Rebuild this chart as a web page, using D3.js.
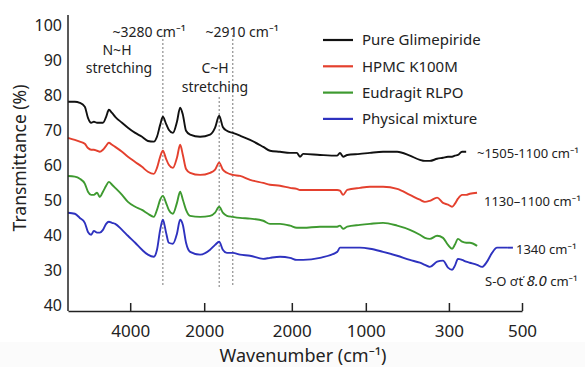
<!DOCTYPE html>
<html>
<head>
<meta charset="utf-8">
<script src="https://cdn.jsdelivr.net/npm/d3@7"></script>
<style>
  body { margin: 0; background: #fff; }
  svg { font-family: "Noto Sans", "Open Sans", sans-serif; }
  .spec { fill: none; stroke-width: 1.9; stroke-linejoin: round; }
  .vline { stroke: #777; stroke-width: 1; stroke-dasharray: 2,2; }
  .lbl { fill: #222; }
</style>
</head>
<body>
<div id="graph"></div>
<script>
// positions along the (relative) wavenumber axis, 0 = left edge, 100 = right edge
var position = [0, 1.5, 2.6, 3.7, 4.4, 5.1, 5.7, 6.4, 7.0, 7.7, 8.4, 9.0, 9.7, 10.4, 11.9, 13.2,
  14.8, 16.3, 17.6, 18.9, 19.6, 20.3, 20.9, 21.6, 22.2, 23.1, 24.0, 24.7, 25.3, 26.0, 26.9,
  29.1, 31.3, 32.4, 33.3, 34.1, 35.0, 36.3, 37.9, 40.1, 43.0, 44.5, 46.7, 48.9, 50.4, 51.1,
  51.8, 55.5, 59.3, 59.9, 60.6, 61.5, 64.3, 66.5, 69.4, 72.5, 75.3, 77.5, 78.6, 79.7, 81.3,
  82.6, 83.7, 84.6, 85.2, 85.9, 86.8, 87.7, 88.5, 90.1, 91.2, 92.3, 93.4, 94.5, 95.6, 96.9];

var pureGlimepiride = [78.3, 78.3, 78.0, 76.9, 73.7, 72.3, 72.6, 72.3, 72.3, 72.3, 74.0, 76.0, 75.1, 74.0, 72.3, 70.9,
  69.4, 68.3, 67.1, 66.9, 68.3, 71.7, 74.0, 72.0, 70.3, 69.4, 72.6, 76.6, 74.6, 70.0, 68.9,
  68.3, 68.9, 70.9, 74.3, 71.1, 70.0, 69.4, 68.6, 67.4, 65.4, 64.3, 64.0, 63.7, 63.7, 62.6,
  63.4, 63.1, 62.9, 63.7, 62.6, 63.1, 63.4, 63.7, 64.0, 64.0, 62.9, 61.7, 61.4, 61.4, 62.0,
  62.3, 62.6, 62.6, 62.9, 63.1, 64.0, 64.0, null, null, null, null, null, null, null, null];

var hpmcK100M = [68.0, 67.4, 66.9, 66.3, 65.1, 64.6, 64.6, 64.3, 64.0, 64.6, 65.7, 66.6, 66.0, 65.4, 64.0, 62.6,
  61.1, 59.7, 58.3, 57.7, 59.4, 62.6, 64.3, 62.0, 60.3, 59.4, 62.3, 66.0, 63.1, 59.1, 58.0,
  57.4, 58.0, 58.9, 60.9, 58.9, 58.0, 57.4, 57.1, 56.0, 55.1, 54.6, 54.3, 53.7, 53.4, 53.1,
  53.1, 53.1, 53.1, 52.9, 51.7, 53.1, 53.7, 54.0, 54.0, 53.4, 51.7, 50.3, 49.7, 50.0, 50.9,
  49.4, 48.9, 48.3, 49.1, 50.6, 51.7, 51.7, 52.0, 52.3, null, null, null, null, null, null];

var eudragitRLPO = [57.1, 56.9, 56.3, 54.9, 52.6, 51.7, 51.7, 52.3, 51.1, 52.6, 54.3, 55.4, 54.6, 53.7, 51.7, 49.7,
  48.3, 47.4, 46.3, 45.4, 47.4, 50.3, 51.4, 49.4, 47.4, 46.3, 49.4, 52.6, 50.3, 47.4, 45.7,
  45.4, 45.7, 46.6, 48.3, 46.6, 45.7, 45.4, 45.1, 44.9, 44.3, 43.4, 43.4, 42.9, 42.3, 42.3,
  42.3, 42.6, 42.6, 42.9, 42.0, 42.6, 43.1, 43.4, 43.7, 42.9, 41.7, 40.3, 39.4, 39.1, 40.0,
  39.4, 37.4, 36.3, 37.4, 39.1, 38.3, 38.0, 38.0, 37.1, null, null, null, null, null, null];

var physicalMixture = [46.6, 46.3, 45.1, 43.7, 41.1, 40.3, 41.4, 40.9, 40.9, 41.7, 43.4, 44.0, 43.7, 43.4, 41.7, 40.0,
  38.0, 36.0, 34.6, 34.0, 36.0, 41.7, 44.6, 40.9, 38.0, 37.7, 40.6, 44.6, 43.1, 38.0, 35.4,
  34.6, 36.0, 37.4, 38.3, 36.0, 35.1, 35.1, 34.6, 34.3, 33.4, 33.7, 34.0, 33.7, 33.1, 33.1,
  33.1, 33.7, 35.4, 36.6, 36.6, 36.6, 36.6, 36.3, 35.4, 34.3, 33.1, 32.3, 31.7, 31.1, 32.6,
  32.9, 30.9, 30.3, 31.4, 33.4, 33.1, 32.6, 32.3, 31.7, 31.1, 32.6, 35.1, 36.6, 36.6, 36.6];

var seriesNames = ["Pure Glimepiride", "HPMC K100M", "Eudragit RLPO", "Physical mixture"];
var seriesColors = ["#111111", "#e4402e", "#3e9a30", "#2e32bf"];

var xTickPos = [13.7, 30.0, 49.3, 65.6, 83.9, 100];
var xTickLabels = ["4000", "2000", "2000", "1000", "300", "500"];
var yTickVals = [100, 90, 80, 70, 60, 50, 40, 30, 20];
var yTickLabels = ["100", "90", "80", "70", "60", "50", "40", "30", "40"];

// dotted reference bands
var refLines = [20.9, 33.3, 36.3];

var W = 585, H = 367;
var margin = {top: 15, right: 63, bottom: 56, left: 68};

var svg = d3.select("#graph").append("svg")
  .attr("width", W).attr("height", H);

svg.append("rect").attr("width", W).attr("height", H).attr("fill", "#fff");
svg.append("rect").attr("y", 342).attr("width", W).attr("height", H - 342).attr("fill", "#fbfbfb");

var x = d3.scaleLinear().domain([0, 100]).range([margin.left, W - margin.right]);
var y = d3.scaleLinear().domain([18.5, 103.1]).range([H - margin.bottom, margin.top]);

//dotted vertical lines
var refTop = [35, 97, 35];
svg.selectAll(".vline").data(refLines).enter().append("line")
  .attr("class", "vline")
  .attr("x1", function(d) { return x(d); })
  .attr("x2", function(d) { return x(d); })
  .attr("y1", function(d, i) { return refTop[i]; })
  .attr("y2", 287);

//spectra
var allSeries = [pureGlimepiride, hpmcK100M, eudragitRLPO, physicalMixture];
var line = d3.line()
  .defined(function(d) { return d[1] !== null; })
  .x(function(d) { return x(d[0]); })
  .y(function(d) { return y(d[1]); })
  .curve(d3.curveMonotoneX);

allSeries.forEach(function(vals, i) {
  var pts = position.map(function(p, j) { return [p, vals[j]]; });
  svg.append("path")
    .attr("class", "spec")
    .attr("stroke", seriesColors[i])
    .attr("d", line(pts));
});

// little lead-in to the 1340 label
svg.append("line")
  .attr("x1", x(96.9)).attr("x2", x(96.9) + 5)
  .attr("y1", y(36.6)).attr("y2", y(36.6))
  .attr("stroke", seriesColors[3]).attr("stroke-width", 1.9);

//axes
svg.append("line")
  .attr("x1", x(0)).attr("x2", x(0))
  .attr("y1", margin.top).attr("y2", H - margin.bottom)
  .attr("stroke", "#222").attr("stroke-width", 1.5);

var xAxis = svg.append("g")
  .attr("transform", "translate(0," + (H - margin.bottom) + ")")
  .call(d3.axisBottom(x).tickValues(xTickPos)
    .tickFormat(function(d, i) { return xTickLabels[i]; })
    .tickSizeInner(-8).tickSizeOuter(0).tickPadding(14));
xAxis.select(".domain").attr("stroke", "#222").attr("stroke-width", 1.5);
xAxis.selectAll(".tick line").attr("stroke", "#222").attr("stroke-width", 1.5);
xAxis.selectAll("text").attr("fill", "#222").style("font-size", "17px")
  .style("font-family", "'Noto Sans', sans-serif");

svg.selectAll(".ylab").data(yTickVals).enter().append("text")
  .attr("class", "lbl")
  .attr("x", x(0) - 6)
  .attr("y", function(d) { return y(d); })
  .attr("dy", "0.35em")
  .attr("text-anchor", "end")
  .style("font-size", "16px")
  .text(function(d, i) { return yTickLabels[i]; });

svg.append("text").attr("class", "lbl")
  .attr("transform", "translate(26,158) rotate(-90)")
  .attr("text-anchor", "middle")
  .style("font-size", "17.5px")
  .text("Transmittance (%)");

svg.append("text").attr("class", "lbl")
  .attr("x", 303).attr("y", 362)
  .attr("text-anchor", "middle")
  .style("font-size", "18px")
  .text("Wavenumber (cm\u207B\u00B9)");

//legend
var legend = svg.append("g").attr("transform", "translate(323,40)");
seriesNames.forEach(function(name, i) {
  var g = legend.append("g").attr("transform", "translate(0," + (i * 26.3) + ")");
  g.append("line").attr("x1", 0).attr("x2", 30)
    .attr("stroke", seriesColors[i]).attr("stroke-width", 2.2);
  g.append("text").attr("class", "lbl")
    .attr("x", 39).attr("dy", "0.35em")
    .style("font-size", "15px")
    .text(name);
});

//annotations
var notes = [
  {t: "~3280 cm\u207B\u00B9", x: 149, y: 37, s: 14, a: "middle"},
  {t: "N~H", x: 117, y: 55, s: 14, a: "middle"},
  {t: "stretching", x: 119, y: 73, s: 14, a: "middle"},
  {t: "~2910 cm\u207B\u00B9", x: 242, y: 37, s: 14, a: "middle"},
  {t: "C~H", x: 215, y: 73, s: 14, a: "middle"},
  {t: "stretching", x: 215, y: 92, s: 14, a: "middle"},
  {t: "~1505-1100 cm\u207B\u00B9", x: 477, y: 158, s: 13, a: "start"},
  {t: "1130\u20131100 cm\u207B\u00B9", x: 484, y: 206, s: 13, a: "start"},
  {t: "1340 cm\u207B\u00B9", x: 516, y: 254, s: 13, a: "start"}
];
notes.forEach(function(n) {
  svg.append("text").attr("class", "lbl")
    .attr("x", n.x).attr("y", n.y)
    .attr("text-anchor", n.a)
    .style("font-size", n.s + "px")
    .text(n.t);
});

var so = svg.append("text").attr("class", "lbl")
  .attr("x", 485).attr("y", 286).style("font-size", "13px");
so.append("tspan").text("S-O \u01A1\u0165 ");
so.append("tspan").style("font-style", "italic").style("font-size", "15px").text("8.0");
so.append("tspan").text(" cm\u207B\u00B9");
</script>
</body>
</html>
